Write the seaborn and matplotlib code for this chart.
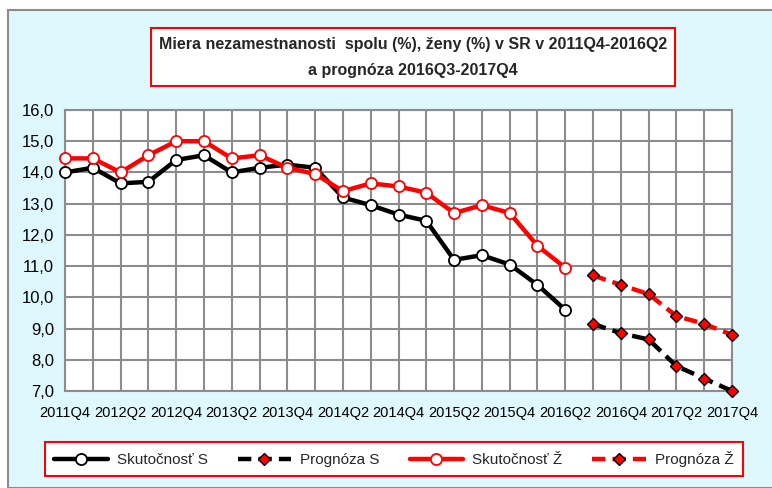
import numpy as np
import pandas as pd
import matplotlib
matplotlib.use('Agg')
import matplotlib.pyplot as plt
from matplotlib.patches import Rectangle
from matplotlib.lines import Line2D
import seaborn as sns

# data
quarters = ['2011Q4', '2012Q1', '2012Q2', '2012Q3', '2012Q4', '2013Q1', '2013Q2',
            '2013Q3', '2013Q4', '2014Q1', '2014Q2', '2014Q3', '2014Q4', '2015Q1',
            '2015Q2', '2015Q3', '2015Q4', '2016Q1', '2016Q2', '2016Q3', '2016Q4',
            '2017Q1', '2017Q2', '2017Q3', '2017Q4']
actual_s = [14.0, 14.15, 13.65, 13.7, 14.4, 14.55, 14.0, 14.15, 14.25, 14.15,
            13.2, 12.95, 12.65, 12.45, 11.2, 11.35, 11.05, 10.4, 9.6]
actual_z = [14.45, 14.45, 14.0, 14.55, 15.0, 15.0, 14.45, 14.55, 14.15, 13.95,
            13.4, 13.65, 13.55, 13.35, 12.7, 12.95, 12.7, 11.65, 10.95]
forecast_s = [9.15, 8.85, 8.65, 7.8, 7.4, 7.0]
forecast_z = [10.7, 10.4, 10.1, 9.4, 9.15, 8.8]

n_act = len(actual_s)
df = pd.DataFrame({'pos': np.arange(len(quarters)), 'quarter': quarters})
df['actual_s'] = actual_s + [np.nan] * len(forecast_s)
df['actual_z'] = actual_z + [np.nan] * len(forecast_z)
df['forecast_s'] = [np.nan] * n_act + forecast_s
df['forecast_z'] = [np.nan] * n_act + forecast_z

sns.set_style('white')
plt.rcParams['font.family'] = ['Liberation Sans', 'DejaVu Sans']

W, H = 772, 488
fig = plt.figure(figsize=(W / 100, H / 100), dpi=100, facecolor='white')

# outer chart area
fig.add_artist(Rectangle((8 / W, 0), 1, 1 - 10 / H, transform=fig.transFigure,
                         facecolor='#dff8fd', edgecolor='#8c8c8c', lw=1.5, zorder=0))

ax = fig.add_axes([65 / W, 1 - 391 / H, 667 / W, 281 / H])
ax.set_facecolor('white')

sns.lineplot(data=df, x='pos', y='actual_s', ax=ax, color='black', lw=3.2,
             marker='o', markersize=8, markerfacecolor='white',
             markeredgecolor='black', markeredgewidth=1.3, label='Skutočnosť S')
sns.lineplot(data=df, x='pos', y='forecast_s', ax=ax, color='black', lw=3.2,
             dashes=(3, 1.6), marker='D', markersize=6.5, markerfacecolor='red',
             markeredgecolor='black', markeredgewidth=1.0, label='Prognóza S')
sns.lineplot(data=df, x='pos', y='actual_z', ax=ax, color='red', lw=3.2,
             marker='o', markersize=8, markerfacecolor='white',
             markeredgecolor='red', markeredgewidth=1.3, label='Skutočnosť Ž')
sns.lineplot(data=df, x='pos', y='forecast_z', ax=ax, color='red', lw=3.2,
             dashes=(3, 1.6), marker='D', markersize=6.5, markerfacecolor='red',
             markeredgecolor='black', markeredgewidth=1.0, label='Prognóza Ž')

for ln in ax.get_lines():
    ln.set_clip_on(False)
    ln.set_zorder(5)

ax.set_xlim(0, len(quarters) - 1)
ax.set_ylim(7, 16)
ax.set_yticks(np.arange(7, 16.1, 1))
ax.set_yticklabels([f'{v:.1f}'.replace('.', ',') for v in np.arange(7, 16.1, 1)])
ax.set_xticks(df['pos'])
ax.set_xticklabels([q if i % 2 == 0 else '' for i, q in enumerate(quarters)])
ax.grid(True, color='#8c8c8c', lw=1.5)
ax.set_axisbelow(True)
for sp in ax.spines.values():
    sp.set_visible(True)
    sp.set_color('#8c8c8c')
    sp.set_linewidth(1.5)
ax.tick_params(axis='both', length=5, width=1.5, color='#8c8c8c',
               labelcolor='black', pad=3)
ax.tick_params(axis='y', labelsize=12)
ax.tick_params(axis='x', labelsize=10.5, pad=6)
ax.set_xlabel('')
ax.set_ylabel('')
ax.get_legend().remove()

# title box
fig.add_artist(Rectangle((151 / W, 1 - 86 / H), 524 / W, 58 / H, transform=fig.transFigure,
                         facecolor='white', edgecolor='red', lw=1.5, zorder=1))
fig.text(413 / W, 1 - 44 / H, 'Miera nezamestnanosti  spolu (%), ženy (%) v SR v 2011Q4-2016Q2',
         ha='center', va='center', fontsize=11.5, fontweight='bold', zorder=2)
fig.text(413 / W, 1 - 70 / H, 'a prognóza 2016Q3-2017Q4',
         ha='center', va='center', fontsize=11.5, fontweight='bold', zorder=2)

# legend
handles = [
    Line2D([], [], color='black', lw=3.2, marker='o', markersize=8, markerfacecolor='white',
           markeredgecolor='black', markeredgewidth=1.3),
    Line2D([], [], color='black', lw=3.2, dashes=(3, 1.6), marker='D', markersize=6.5,
           markerfacecolor='red', markeredgecolor='black'),
    Line2D([], [], color='red', lw=3.2, marker='o', markersize=8, markerfacecolor='white',
           markeredgecolor='red', markeredgewidth=1.3),
    Line2D([], [], color='red', lw=3.2, dashes=(3, 1.6), marker='D', markersize=6.5,
           markerfacecolor='red', markeredgecolor='black'),
]
labels = ['Skutočnosť S', 'Prognóza S', 'Skutočnosť Ž', 'Prognóza Ž']
leg = fig.legend(handles, labels, ncol=4, loc='center', mode='expand',
                 bbox_to_anchor=(45 / W, 1 - 477 / H, 698 / W, 36 / H),
                 bbox_transform=fig.transFigure, fontsize=11, handlelength=3.5,
                 handletextpad=0.6, frameon=True, fancybox=False, borderaxespad=0,
                 borderpad=0.6)
leg.get_frame().set_edgecolor('red')
leg.get_frame().set_linewidth(1.5)
leg.get_frame().set_facecolor('white')
leg.get_frame().set_alpha(1)

fig.savefig('out.png', dpi=100, facecolor='white')
